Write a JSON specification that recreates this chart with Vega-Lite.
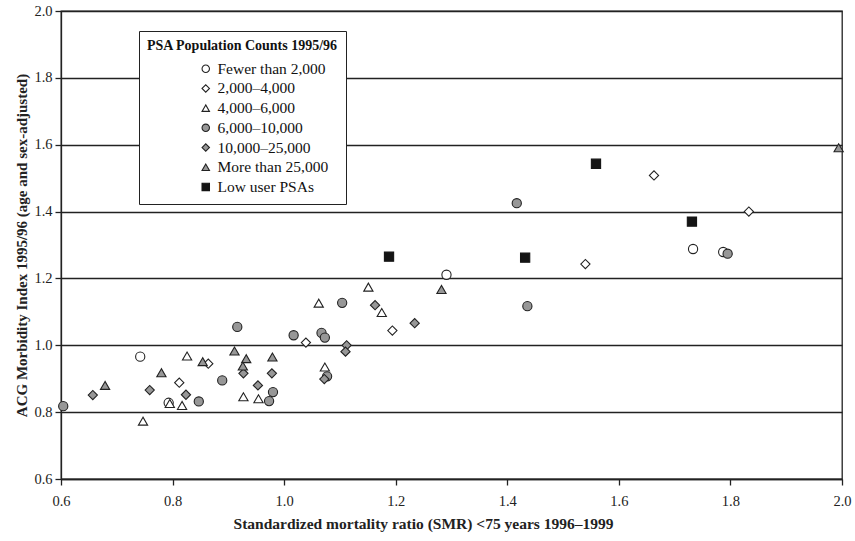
{
  "$schema": "https://vega.github.io/schema/vega-lite/v6.json",
  "width": 781,
  "height": 468,
  "padding": {"top": 3, "left": 14, "right": 3, "bottom": 5},
  "background": "white",
  "config": {
    "font": "Liberation Serif",
    "view": {"stroke": "#222", "strokeWidth": 1.3},
    "axis": {
      "labelFont": "Liberation Serif",
      "labelFontSize": 14.5,
      "labelColor": "#222",
      "labelFlush": false,
      "titleFont": "Liberation Serif",
      "titleFontSize": 15,
      "titleFontWeight": "bold",
      "titleColor": "#222",
      "domainColor": "#222",
      "domainWidth": 1.3,
      "tickColor": "#222",
      "tickWidth": 1.3,
      "tickSize": 6
    },
    "legend": {
      "labelFont": "Liberation Serif",
      "titleFont": "Liberation Serif"
    }
  },
  "data": {
    "values": [
      {"smr": 0.742, "acg": 0.966, "cat": "Fewer than 2,000"},
      {"smr": 1.291, "acg": 1.211, "cat": "Fewer than 2,000"},
      {"smr": 1.733, "acg": 1.288, "cat": "Fewer than 2,000"},
      {"smr": 1.787, "acg": 1.279, "cat": "Fewer than 2,000"},
      {"smr": 0.793, "acg": 0.828, "cat": "Fewer than 2,000"},
      {"smr": 0.864, "acg": 0.945, "cat": "2,000–4,000"},
      {"smr": 0.812, "acg": 0.888, "cat": "2,000–4,000"},
      {"smr": 1.039, "acg": 1.008, "cat": "2,000–4,000"},
      {"smr": 1.194, "acg": 1.044, "cat": "2,000–4,000"},
      {"smr": 1.540, "acg": 1.243, "cat": "2,000–4,000"},
      {"smr": 1.663, "acg": 1.508, "cat": "2,000–4,000"},
      {"smr": 1.833, "acg": 1.400, "cat": "2,000–4,000"},
      {"smr": 0.826, "acg": 0.968, "cat": "4,000–6,000"},
      {"smr": 0.927, "acg": 0.846, "cat": "4,000–6,000"},
      {"smr": 0.954, "acg": 0.840, "cat": "4,000–6,000"},
      {"smr": 0.817, "acg": 0.820, "cat": "4,000–6,000"},
      {"smr": 0.747, "acg": 0.773, "cat": "4,000–6,000"},
      {"smr": 1.062, "acg": 1.126, "cat": "4,000–6,000"},
      {"smr": 1.151, "acg": 1.174, "cat": "4,000–6,000"},
      {"smr": 1.175, "acg": 1.098, "cat": "4,000–6,000"},
      {"smr": 1.073, "acg": 0.935, "cat": "4,000–6,000"},
      {"smr": 0.795, "acg": 0.826, "cat": "4,000–6,000"},
      {"smr": 0.604, "acg": 0.818, "cat": "6,000–10,000"},
      {"smr": 0.889, "acg": 0.895, "cat": "6,000–10,000"},
      {"smr": 0.980, "acg": 0.860, "cat": "6,000–10,000"},
      {"smr": 0.973, "acg": 0.833, "cat": "6,000–10,000"},
      {"smr": 0.847, "acg": 0.832, "cat": "6,000–10,000"},
      {"smr": 0.916, "acg": 1.055, "cat": "6,000–10,000"},
      {"smr": 1.017, "acg": 1.030, "cat": "6,000–10,000"},
      {"smr": 1.067, "acg": 1.037, "cat": "6,000–10,000"},
      {"smr": 1.073, "acg": 1.023, "cat": "6,000–10,000"},
      {"smr": 1.104, "acg": 1.127, "cat": "6,000–10,000"},
      {"smr": 1.077, "acg": 0.907, "cat": "6,000–10,000"},
      {"smr": 1.417, "acg": 1.425, "cat": "6,000–10,000"},
      {"smr": 1.436, "acg": 1.117, "cat": "6,000–10,000"},
      {"smr": 1.795, "acg": 1.274, "cat": "6,000–10,000"},
      {"smr": 0.657, "acg": 0.851, "cat": "10,000–25,000"},
      {"smr": 0.759, "acg": 0.866, "cat": "10,000–25,000"},
      {"smr": 0.824, "acg": 0.852, "cat": "10,000–25,000"},
      {"smr": 0.927, "acg": 0.916, "cat": "10,000–25,000"},
      {"smr": 0.978, "acg": 0.916, "cat": "10,000–25,000"},
      {"smr": 0.953, "acg": 0.880, "cat": "10,000–25,000"},
      {"smr": 1.163, "acg": 1.120, "cat": "10,000–25,000"},
      {"smr": 1.234, "acg": 1.066, "cat": "10,000–25,000"},
      {"smr": 1.112, "acg": 1.000, "cat": "10,000–25,000"},
      {"smr": 1.110, "acg": 0.981, "cat": "10,000–25,000"},
      {"smr": 1.072, "acg": 0.899, "cat": "10,000–25,000"},
      {"smr": 0.679, "acg": 0.880, "cat": "More than 25,000"},
      {"smr": 0.780, "acg": 0.918, "cat": "More than 25,000"},
      {"smr": 0.854, "acg": 0.951, "cat": "More than 25,000"},
      {"smr": 0.911, "acg": 0.983, "cat": "More than 25,000"},
      {"smr": 0.932, "acg": 0.960, "cat": "More than 25,000"},
      {"smr": 0.926, "acg": 0.938, "cat": "More than 25,000"},
      {"smr": 0.979, "acg": 0.965, "cat": "More than 25,000"},
      {"smr": 1.282, "acg": 1.167, "cat": "More than 25,000"},
      {"smr": 1.994, "acg": 1.591, "cat": "More than 25,000"},
      {"smr": 1.188, "acg": 1.265, "cat": "Low user PSAs"},
      {"smr": 1.432, "acg": 1.262, "cat": "Low user PSAs"},
      {"smr": 1.559, "acg": 1.543, "cat": "Low user PSAs"},
      {"smr": 1.731, "acg": 1.370, "cat": "Low user PSAs"}
    ]
  },
  "mark": {"type": "point", "filled": true, "strokeWidth": 1.1, "opacity": 1, "size": 85, "clip": false},
  "encoding": {
    "x": {
      "field": "smr",
      "type": "quantitative",
      "scale": {"domain": [0.6, 2.0], "nice": false, "zero": false},
      "axis": {
        "title": "Standardized mortality ratio  (SMR) <75 years 1996–1999",
        "values": [0.6, 0.8, 1.0, 1.2, 1.4, 1.6, 1.8, 2.0],
        "format": ".1f",
        "grid": false,
        "labelPadding": 9,
        "titlePadding": 9,
        "titleFontSize": 15.5,
        "titleX": 362
      }
    },
    "y": {
      "field": "acg",
      "type": "quantitative",
      "scale": {"domain": [0.6, 2.0], "nice": false, "zero": false},
      "axis": {
        "title": "ACG Morbidity Index 1995/96 (age and sex-adjusted)",
        "values": [0.6, 0.8, 1.0, 1.2, 1.4, 1.6, 1.8, 2.0],
        "format": ".1f",
        "grid": true,
        "gridColor": "#222",
        "gridWidth": 1.3,
        "gridOpacity": 1,
        "labelPadding": 3,
        "titlePadding": 4
      }
    },
    "shape": {
      "field": "cat",
      "type": "nominal",
      "sort": ["Fewer than 2,000", "2,000–4,000", "4,000–6,000", "6,000–10,000", "10,000–25,000", "More than 25,000", "Low user PSAs"],
      "scale": {
        "domain": ["Fewer than 2,000", "2,000–4,000", "4,000–6,000", "6,000–10,000", "10,000–25,000", "More than 25,000", "Low user PSAs"],
        "range": ["circle", "diamond", "triangle-up", "circle", "diamond", "triangle-up", "square"]
      },
      "legend": {
        "title": "PSA Population Counts 1995/96",
        "orient": "none",
        "legendX": 78,
        "legendY": 20,
        "strokeColor": "#222",
        "fillColor": "white",
        "padding": 8,
        "titleFontSize": 14,
        "titleFontWeight": "bold",
        "titleColor": "#111",
        "titlePadding": 8,
        "titleLimit": 500,
        "titleAnchor": "middle",
        "labelFontSize": 15.5,
        "labelLimit": 400,
        "labelColor": "#111",
        "symbolSize": 55,
        "symbolOffset": 42,
        "symbolStrokeWidth": 1.1,
        "rowPadding": 2.7,
        "labelOffset": 4,
        "offset": 0
      }
    },
    "fill": {
      "field": "cat",
      "type": "nominal",
      "sort": ["Fewer than 2,000", "2,000–4,000", "4,000–6,000", "6,000–10,000", "10,000–25,000", "More than 25,000", "Low user PSAs"],
      "scale": {
        "domain": ["Fewer than 2,000", "2,000–4,000", "4,000–6,000", "6,000–10,000", "10,000–25,000", "More than 25,000", "Low user PSAs"],
        "range": ["white", "white", "white", "#979797", "#979797", "#979797", "#141414"]
      },
      "legend": {
        "title": "PSA Population Counts 1995/96",
        "orient": "none",
        "legendX": 78,
        "legendY": 20,
        "strokeColor": "#222",
        "fillColor": "white",
        "padding": 8,
        "titleFontSize": 14,
        "titleFontWeight": "bold",
        "titleColor": "#111",
        "titlePadding": 8,
        "titleLimit": 500,
        "titleAnchor": "middle",
        "labelFontSize": 15.5,
        "labelLimit": 400,
        "labelColor": "#111",
        "symbolSize": 55,
        "symbolOffset": 42,
        "symbolStrokeWidth": 1.1,
        "rowPadding": 2.7,
        "labelOffset": 4,
        "offset": 0
      }
    },
    "stroke": {
      "field": "cat",
      "type": "nominal",
      "sort": ["Fewer than 2,000", "2,000–4,000", "4,000–6,000", "6,000–10,000", "10,000–25,000", "More than 25,000", "Low user PSAs"],
      "scale": {
        "domain": ["Fewer than 2,000", "2,000–4,000", "4,000–6,000", "6,000–10,000", "10,000–25,000", "More than 25,000", "Low user PSAs"],
        "range": ["#222", "#222", "#222", "#222", "#222", "#222", "#141414"]
      },
      "legend": {
        "title": "PSA Population Counts 1995/96",
        "orient": "none",
        "legendX": 78,
        "legendY": 20,
        "strokeColor": "#222",
        "fillColor": "white",
        "padding": 8,
        "titleFontSize": 14,
        "titleFontWeight": "bold",
        "titleColor": "#111",
        "titlePadding": 8,
        "titleLimit": 500,
        "titleAnchor": "middle",
        "labelFontSize": 15.5,
        "labelLimit": 400,
        "labelColor": "#111",
        "symbolSize": 55,
        "symbolOffset": 42,
        "symbolStrokeWidth": 1.1,
        "rowPadding": 2.7,
        "labelOffset": 4,
        "offset": 0
      }
    }
  }
}
